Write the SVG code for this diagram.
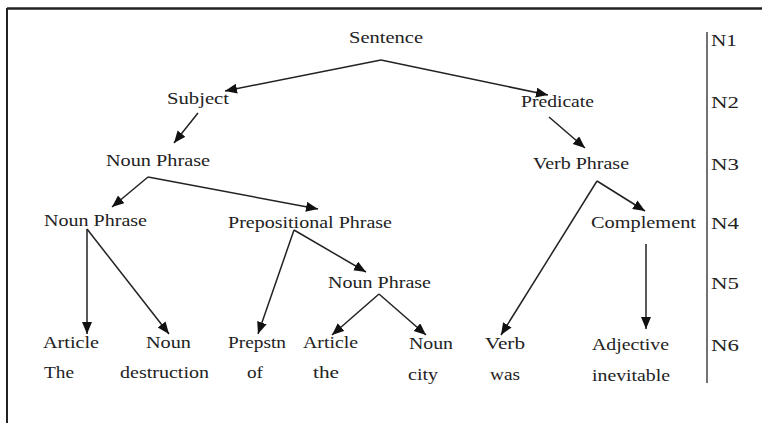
<svg xmlns="http://www.w3.org/2000/svg" width="762" height="423" viewBox="0 0 762 423">
<style>
.t{font-family:"Liberation Serif","Times New Roman",serif;font-size:17px;fill:#222}
.c line{stroke:#222;stroke-width:1.5;marker-end:url(#ah)}
</style>
<defs>
<marker id="ah" markerUnits="userSpaceOnUse" markerWidth="13" markerHeight="11" refX="12" refY="5" orient="auto" viewBox="0 0 13 11">
<path d="M0,0 L12,5 L0,10 z" fill="#111"/>
</marker>
</defs>
<rect width="762" height="423" fill="#fff"/>
<g id="frame">
<line x1="7" y1="8.5" x2="762" y2="8.5" stroke="#222" stroke-width="2.5"/>
<line x1="7" y1="8" x2="7" y2="423" stroke="#222" stroke-width="2"/>
<line x1="707" y1="32" x2="707" y2="383" stroke="#444" stroke-width="1.5"/>
</g>
<g class="c" id="connectors">
<line x1="381" y1="60" x2="225" y2="91"/>
<line x1="381" y1="60" x2="548" y2="95"/>
<line x1="198" y1="113" x2="174" y2="143"/>
<line x1="549" y1="117" x2="585" y2="148"/>
<line x1="148" y1="177" x2="112" y2="207"/>
<line x1="148" y1="177" x2="318" y2="209"/>
<line x1="597" y1="181" x2="645" y2="211"/>
<line x1="597" y1="181" x2="501" y2="335"/>
<line x1="646" y1="244" x2="646" y2="329"/>
<line x1="87" y1="229" x2="87" y2="334"/>
<line x1="87" y1="229" x2="169" y2="334"/>
<line x1="294" y1="230" x2="258" y2="334"/>
<line x1="294" y1="230" x2="366" y2="272"/>
<line x1="379" y1="294" x2="332" y2="335"/>
<line x1="379" y1="294" x2="426" y2="335"/>
</g>
<g id="sentence"><text class="t" x="349" y="43" textLength="74" lengthAdjust="spacingAndGlyphs">Sentence</text></g>
<g id="subject"><text class="t" x="167" y="104" textLength="62" lengthAdjust="spacingAndGlyphs">Subject</text></g>
<g id="predicate"><text class="t" x="521" y="107" textLength="73" lengthAdjust="spacingAndGlyphs">Predicate</text></g>
<g id="np1"><text class="t" x="106" y="166" textLength="104" lengthAdjust="spacingAndGlyphs">Noun Phrase</text></g>
<g id="vp"><text class="t" x="533" y="169" textLength="96" lengthAdjust="spacingAndGlyphs">Verb Phrase</text></g>
<g id="np2"><text class="t" x="44" y="226" textLength="103" lengthAdjust="spacingAndGlyphs">Noun Phrase</text></g>
<g id="pp"><text class="t" x="228" y="228" textLength="164" lengthAdjust="spacingAndGlyphs">Prepositional Phrase</text></g>
<g id="complement"><text class="t" x="591" y="228" textLength="105" lengthAdjust="spacingAndGlyphs">Complement</text></g>
<g id="np3"><text class="t" x="328" y="288" textLength="103" lengthAdjust="spacingAndGlyphs">Noun Phrase</text></g>
<g id="w1"><text class="t" x="43" y="348" textLength="56" lengthAdjust="spacingAndGlyphs">Article</text><text class="t" x="44" y="378" textLength="30" lengthAdjust="spacingAndGlyphs">The</text></g>
<g id="w2"><text class="t" x="146" y="348" textLength="45" lengthAdjust="spacingAndGlyphs">Noun</text><text class="t" x="120" y="378" textLength="89" lengthAdjust="spacingAndGlyphs">destruction</text></g>
<g id="w3"><text class="t" x="228" y="348" textLength="58" lengthAdjust="spacingAndGlyphs">Prepstn</text><text class="t" x="247" y="378" textLength="16" lengthAdjust="spacingAndGlyphs">of</text></g>
<g id="w4"><text class="t" x="303" y="348" textLength="55" lengthAdjust="spacingAndGlyphs">Article</text><text class="t" x="313" y="378" textLength="26" lengthAdjust="spacingAndGlyphs">the</text></g>
<g id="w5"><text class="t" x="409" y="349" textLength="44" lengthAdjust="spacingAndGlyphs">Noun</text><text class="t" x="408" y="380" textLength="30" lengthAdjust="spacingAndGlyphs">city</text></g>
<g id="w6"><text class="t" x="485" y="349" textLength="40" lengthAdjust="spacingAndGlyphs">Verb</text><text class="t" x="490" y="380" textLength="30" lengthAdjust="spacingAndGlyphs">was</text></g>
<g id="w7"><text class="t" x="592" y="350" textLength="77" lengthAdjust="spacingAndGlyphs">Adjective</text><text class="t" x="592" y="381" textLength="78" lengthAdjust="spacingAndGlyphs">inevitable</text></g>
<g id="levels">
<text class="t" x="711" y="46" textLength="26" lengthAdjust="spacingAndGlyphs">N1</text>
<text class="t" x="711" y="108" textLength="28" lengthAdjust="spacingAndGlyphs">N2</text>
<text class="t" x="711" y="170" textLength="28" lengthAdjust="spacingAndGlyphs">N3</text>
<text class="t" x="711" y="229" textLength="28" lengthAdjust="spacingAndGlyphs">N4</text>
<text class="t" x="711" y="289" textLength="28" lengthAdjust="spacingAndGlyphs">N5</text>
<text class="t" x="711" y="351" textLength="28" lengthAdjust="spacingAndGlyphs">N6</text>
</g>
</svg>
